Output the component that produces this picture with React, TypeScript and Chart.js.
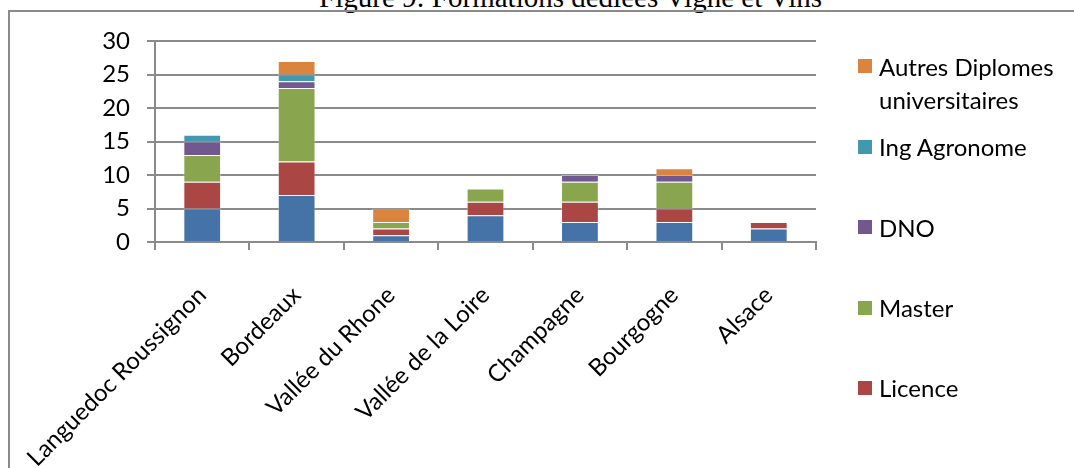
import React, { useEffect, useRef } from "react";
import { Chart, registerables } from "chart.js";

Chart.register(...registerables);

const titleText = "Figure 9: Formations dédiées Vigne et Vins";

const categories = [
  "Languedoc Roussignon",
  "Bordeaux",
  "Vallée du Rhone",
  "Vallée de la Loire",
  "Champagne",
  "Bourgogne",
  "Alsace",
];

const bts = [5, 7, 1, 4, 3, 3, 2];
const licence = [4, 5, 1, 2, 3, 2, 1];
const master = [4, 11, 1, 2, 3, 4, 0];
const dno = [2, 1, 0, 0, 1, 1, 0];
const ingAgronome = [1, 1, 0, 0, 0, 0, 0];
const autres = [0, 2, 2, 0, 0, 1, 0];

const seriesNames = [
  "BTS",
  "Licence",
  "Master",
  "DNO",
  "Ing Agronome",
  "Autres Diplomes universitaires",
];
const seriesColors = ["#4572A7", "#AA4643", "#89A54E", "#71588F", "#4198AF", "#DB843D"];

const yTickStep = 5;
const yMax = 30;

const GRID = "#8a8a8a";
const FONT = "Lato";

export default function App() {
  const ref = useRef<HTMLCanvasElement>(null);

  useEffect(() => {
    const values = [bts, licence, master, dno, ingAgronome, autres];
    const chart = new Chart(ref.current as HTMLCanvasElement, {
      type: "bar",
      data: {
        labels: categories,
        datasets: seriesNames.map((name, i) => ({
          label: name,
          data: values[i],
          backgroundColor: seriesColors[i],
          borderColor: "rgba(255,255,255,0.35)",
          borderWidth: 1,
          categoryPercentage: 0.4,
          barPercentage: 1,
        })),
      },
      options: {
        animation: false,
        responsive: false,
        layout: { padding: { left: 0, top: 41, right: 258, bottom: 0 } },
        plugins: {
          legend: { display: false },
          tooltip: { enabled: false },
          title: { display: false },
        },
        scales: {
          x: {
            stacked: true,
            offset: true,
            grid: {
              display: true,
              drawOnChartArea: false,
              drawTicks: true,
              tickLength: 8,
              color: GRID,
              lineWidth: 2,
              offset: true,
            },
            border: { display: true, color: GRID, width: 2 },
            ticks: {
              autoSkip: false,
              maxRotation: 45,
              minRotation: 45,
              padding: 31,
              color: "#000",
              font: { family: FONT, size: 24 },
            },
            afterFit: (s: any) => {
              s.height = 226;
              s.paddingLeft = 0;
              s.paddingRight = 0;
            },
          },
          y: {
            stacked: true,
            min: 0,
            max: yMax,
            ticks: {
              stepSize: yTickStep,
              padding: 17,
              color: "#000",
              font: { family: FONT, size: 24 },
            },
            grid: { color: GRID, lineWidth: 2, tickLength: 8, drawTicks: true },
            border: { display: true, color: GRID, width: 2 },
            afterFit: (s: any) => {
              s.width = 155;
              s.paddingTop = 0;
              s.paddingBottom = 0;
            },
          },
        },
      },
    } as any);
    return () => chart.destroy();
  }, []);

  const legendOrder = [5, 4, 3, 2, 1, 0];
  const legendCenters = [66, 146.5, 227, 307.5, 387.5, 500];

  return (
    <div
      style={{
        position: "fixed",
        left: 0,
        top: 0,
        width: 1074,
        height: 468,
        overflow: "hidden",
        background: "#fff",
      }}
    >
      <div
        style={{
          position: "absolute",
          right: 252,
          top: -17,
          whiteSpace: "nowrap",
          fontFamily: "'Liberation Serif', 'Times New Roman', serif",
          fontSize: 29,
          lineHeight: "29px",
          color: "#000",
        }}
      >
        {titleText}
      </div>
      <div
        style={{
          position: "absolute",
          left: 8,
          top: 10,
          width: 2000,
          height: 1000,
          border: `2px solid ${GRID}`,
          boxSizing: "border-box",
        }}
      />
      <canvas
        ref={ref}
        width={1074}
        height={468}
        style={{ position: "absolute", left: 0, top: 0, width: 1074, height: 468 }}
      />
      {legendOrder.map((si, k) => {
        const c = legendCenters[k];
        return (
          <React.Fragment key={si}>
            <div
              style={{
                position: "absolute",
                left: 858,
                top: c - 7,
                width: 14,
                height: 14,
                background: seriesColors[si],
              }}
            />
            <div
              style={{
                position: "absolute",
                left: 879,
                top: c - 16.5,
                width: 190,
                fontFamily: FONT,
                fontSize: 24,
                lineHeight: "33px",
                color: "#000",
              }}
            >
              {seriesNames[si]}
            </div>
          </React.Fragment>
        );
      })}
    </div>
  );
}
